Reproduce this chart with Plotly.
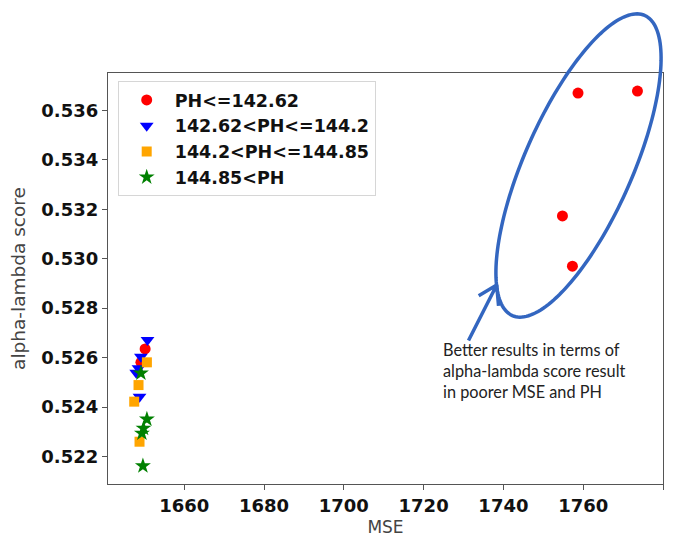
import math
import plotly.graph_objects as go

# ---------------- data ----------------
series_names = ["PH<=142.62", "142.62<PH<=144.2", "144.2<PH<=144.85", "144.85<PH"]

red_mse = [1758.7, 1773.6, 1754.8, 1757.3, 1650.2, 1649.15]
red_score = [0.53670, 0.53678, 0.53173, 0.52970, 0.52635, 0.52581]

blue_mse = [1650.8, 1649.15, 1648.55, 1647.97, 1648.8]
blue_score = [0.52671, 0.52604, 0.52557, 0.52539, 0.52442]

orange_mse = [1650.65, 1648.55, 1647.47, 1648.8]
orange_score = [0.52581, 0.52489, 0.52422, 0.52260]

green_mse = [1649.15, 1650.65, 1649.8, 1649.4, 1649.65]
green_score = [0.52537, 0.52351, 0.52314, 0.52294, 0.52162]

x_ticks = [1660, 1680, 1700, 1720, 1740, 1760, 1780]
y_ticks = [0.522, 0.524, 0.526, 0.528, 0.530, 0.532, 0.534, 0.536]

note_lines = ["Better results in terms of", "alpha-lambda score result", "in poorer MSE and PH"]

# ---------------- layout geometry (page body has an 8px margin) ----------------
OFF = 8
W, H = 686 - OFF, 540 - OFF
ML, MR, MT, MB = 108 - OFF, 23, 73 - OFF, 56
PW, PH_ = W - ML - MR, H - MT - MB


def px2paper(px, py):
    """page pixel -> paper fraction"""
    return (px - OFF - ML) / PW, (540 - MB - py) / PH_


fig = go.Figure()

styles = [
    dict(color="#ff0000", symbol="circle", size=11),
    dict(color="#0000ff", symbol="triangle-down", size=12),
    dict(color="#ffa500", symbol="square", size=10),
    dict(color="#008000", symbol="star", size=12),
]
data = [(red_mse, red_score), (blue_mse, blue_score), (orange_mse, orange_score), (green_mse, green_score)]

for name, (xs, ys), st in zip(series_names, data, styles):
    fig.add_trace(go.Scatter(
        x=xs, y=ys, mode="markers", name=name,
        marker=dict(color=st["color"], symbol=st["symbol"], size=st["size"], line=dict(width=0)),
    ))

# ---------------- ellipse (annotation decoration) ----------------
cx, cy, a, b, phi = 578.5, 165.5, 164.0, 54.0, math.radians(-66.2)
pts = []
for i in range(0, 181):
    t = 2 * math.pi * i / 180
    ex = cx + a * math.cos(t) * math.cos(phi) - b * math.sin(t) * math.sin(phi)
    ey = cy + a * math.cos(t) * math.sin(phi) + b * math.sin(t) * math.cos(phi)
    pts.append(px2paper(ex, ey))
path = "M " + " L ".join(f"{p[0]:.5f},{p[1]:.5f}" for p in pts) + " Z"
fig.add_shape(type="path", path=path, xref="paper", yref="paper",
              line=dict(color="#3366c0", width=3.5), layer="above")

# ---------------- arrow ----------------
tail = (468.5, 340.5)
tip = (496.7, 285.0)
dx, dy = tip[0] - tail[0], tip[1] - tail[1]
L = math.hypot(dx, dy)
ux, uy = dx / L, dy / L
barb = 21
path_a = "M {0:.5f},{1:.5f} L {2:.5f},{3:.5f}".format(*px2paper(*tail), *px2paper(*tip))
for ang in (math.radians(32), math.radians(-32)):
    bx = tip[0] - barb * (ux * math.cos(ang) - uy * math.sin(ang))
    by = tip[1] - barb * (ux * math.sin(ang) + uy * math.cos(ang))
    p0 = px2paper(*tip)
    p1 = px2paper(bx, by)
    path_a += f" M {p0[0]:.5f},{p0[1]:.5f} L {p1[0]:.5f},{p1[1]:.5f}"
fig.add_shape(type="path", path=path_a, xref="paper", yref="paper",
              line=dict(color="#3366c0", width=3.5), layer="above")

# ---------------- note text ----------------
nx, ny = px2paper(440.5, 370.0)
fig.add_annotation(
    text="<br>".join(note_lines), xref="paper", yref="paper", x=nx, y=ny,
    xanchor="left", yanchor="middle", align="left", showarrow=False,
    font=dict(family="Lato", size=16.3, color="#222222"),
)

axis_common = dict(
    showgrid=False, zeroline=False, showline=True, linecolor="#555555", linewidth=1.3,
    mirror=True, ticks="outside", ticklen=5, tickwidth=1.2, tickcolor="#555555",
    tickfont=dict(family="DejaVu Sans", size=18, color="#111111", weight="bold"),
)

lx, ly = px2paper(117.7, 81.0)
fig.update_layout(
    width=W, height=H,
    margin=dict(l=ML, r=MR, t=MT, b=MB, autoexpand=False),
    plot_bgcolor="white", paper_bgcolor="white",
    xaxis=dict(range=[1640.9, 1780.0], tickvals=x_ticks, ticktext=[str(v) for v in x_ticks],
               title=dict(text="MSE", font=dict(family="DejaVu Sans", size=17, color="#444444"), standoff=6),
               **axis_common),
    yaxis=dict(range=[0.52089, 0.53751], tickvals=y_ticks, ticktext=[f"{v:.3f}" for v in y_ticks],
               title=dict(text="alpha-lambda score", font=dict(family="DejaVu Sans", size=18.5, color="#444444"), standoff=10),
               **axis_common),
    legend=dict(
        x=lx, y=ly, xanchor="left", yanchor="top",
        bgcolor="rgba(255,255,255,0.85)", bordercolor="#d6d6d6", borderwidth=1,
        font=dict(family="DejaVu Sans", size=17.5, color="#111111", weight="bold"),
        itemwidth=46, entrywidth=234, entrywidthmode="pixels",
    ),
    showlegend=True,
)

fig.write_html("out.html")
